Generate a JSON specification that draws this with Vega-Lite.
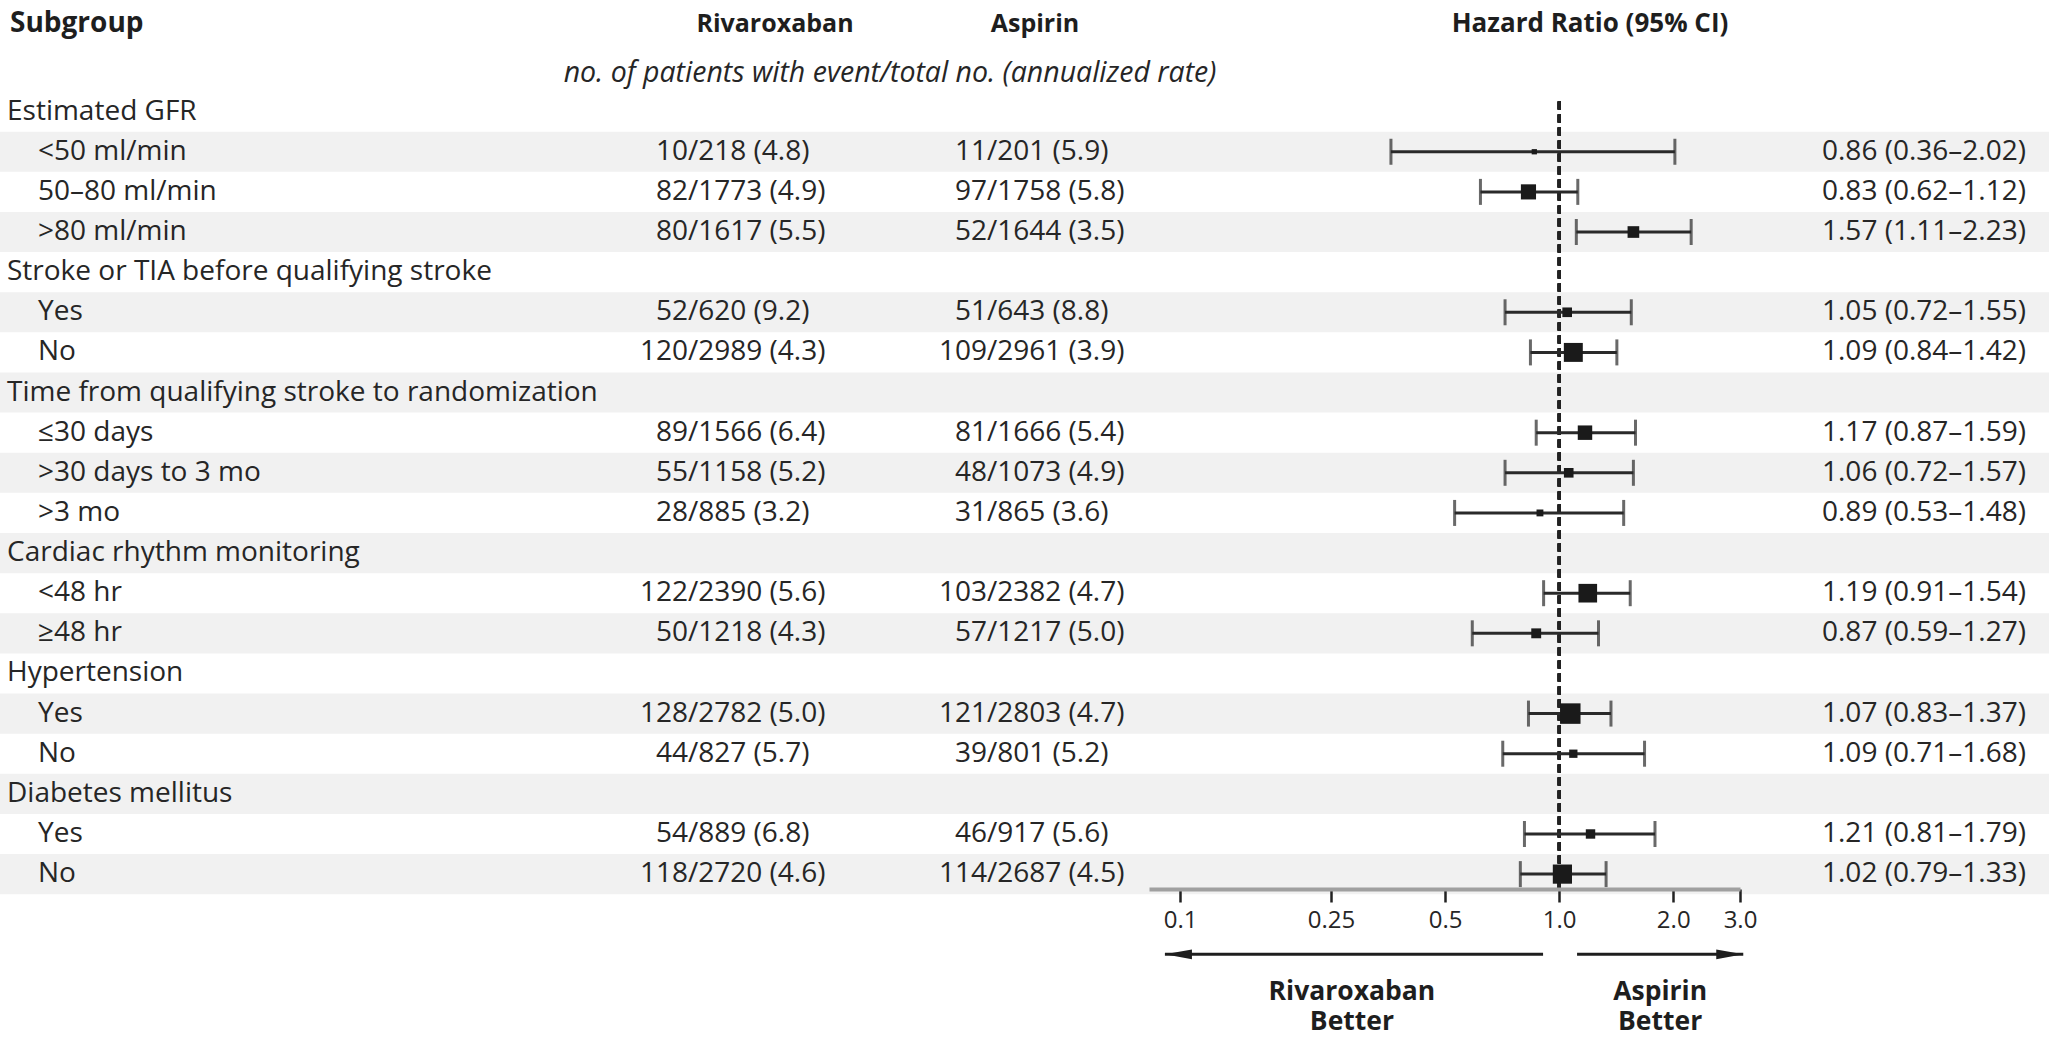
{
  "$schema": "https://vega.github.io/schema/vega-lite/v6.json",
  "width": 2049,
  "height": 889,
  "autosize": {"type": "none"},
  "padding": {"left": 0, "top": 0, "right": 0, "bottom": 151},
  "background": "white",
  "config": {
    "view": {"stroke": null},
    "font": "Open Sans",
    "text": {"font": "Open Sans", "fontSize": 28, "color": "#262626", "baseline": "middle"}
  },
  "datasets": {
    "subgroups": [
      {"row": 1, "label": "Estimated GFR", "level": "group"},
      {"row": 2, "label": "<50 ml/min", "level": "item", "riv_n": 10, "riv_total": 218, "riv_rate": 4.8, "asp_n": 11, "asp_total": 201, "asp_rate": 5.9, "hr": 0.86, "lo": 0.36, "hi": 2.02},
      {"row": 3, "label": "50–80 ml/min", "level": "item", "riv_n": 82, "riv_total": 1773, "riv_rate": 4.9, "asp_n": 97, "asp_total": 1758, "asp_rate": 5.8, "hr": 0.83, "lo": 0.62, "hi": 1.12},
      {"row": 4, "label": ">80 ml/min", "level": "item", "riv_n": 80, "riv_total": 1617, "riv_rate": 5.5, "asp_n": 52, "asp_total": 1644, "asp_rate": 3.5, "hr": 1.57, "lo": 1.11, "hi": 2.23},
      {"row": 5, "label": "Stroke or TIA before qualifying stroke", "level": "group"},
      {"row": 6, "label": "Yes", "level": "item", "riv_n": 52, "riv_total": 620, "riv_rate": 9.2, "asp_n": 51, "asp_total": 643, "asp_rate": 8.8, "hr": 1.05, "lo": 0.72, "hi": 1.55},
      {"row": 7, "label": "No", "level": "item", "riv_n": 120, "riv_total": 2989, "riv_rate": 4.3, "asp_n": 109, "asp_total": 2961, "asp_rate": 3.9, "hr": 1.09, "lo": 0.84, "hi": 1.42},
      {"row": 8, "label": "Time from qualifying stroke to randomization", "level": "group"},
      {"row": 9, "label": "≤30 days", "level": "item", "riv_n": 89, "riv_total": 1566, "riv_rate": 6.4, "asp_n": 81, "asp_total": 1666, "asp_rate": 5.4, "hr": 1.17, "lo": 0.87, "hi": 1.59},
      {"row": 10, "label": ">30 days to 3 mo", "level": "item", "riv_n": 55, "riv_total": 1158, "riv_rate": 5.2, "asp_n": 48, "asp_total": 1073, "asp_rate": 4.9, "hr": 1.06, "lo": 0.72, "hi": 1.57},
      {"row": 11, "label": ">3 mo", "level": "item", "riv_n": 28, "riv_total": 885, "riv_rate": 3.2, "asp_n": 31, "asp_total": 865, "asp_rate": 3.6, "hr": 0.89, "lo": 0.53, "hi": 1.48},
      {"row": 12, "label": "Cardiac rhythm monitoring", "level": "group"},
      {"row": 13, "label": "<48 hr", "level": "item", "riv_n": 122, "riv_total": 2390, "riv_rate": 5.6, "asp_n": 103, "asp_total": 2382, "asp_rate": 4.7, "hr": 1.19, "lo": 0.91, "hi": 1.54},
      {"row": 14, "label": "≥48 hr", "level": "item", "riv_n": 50, "riv_total": 1218, "riv_rate": 4.3, "asp_n": 57, "asp_total": 1217, "asp_rate": 5.0, "hr": 0.87, "lo": 0.59, "hi": 1.27},
      {"row": 15, "label": "Hypertension", "level": "group"},
      {"row": 16, "label": "Yes", "level": "item", "riv_n": 128, "riv_total": 2782, "riv_rate": 5.0, "asp_n": 121, "asp_total": 2803, "asp_rate": 4.7, "hr": 1.07, "lo": 0.83, "hi": 1.37},
      {"row": 17, "label": "No", "level": "item", "riv_n": 44, "riv_total": 827, "riv_rate": 5.7, "asp_n": 39, "asp_total": 801, "asp_rate": 5.2, "hr": 1.09, "lo": 0.71, "hi": 1.68},
      {"row": 18, "label": "Diabetes mellitus", "level": "group"},
      {"row": 19, "label": "Yes", "level": "item", "riv_n": 54, "riv_total": 889, "riv_rate": 6.8, "asp_n": 46, "asp_total": 917, "asp_rate": 5.6, "hr": 1.21, "lo": 0.81, "hi": 1.79},
      {"row": 20, "label": "No", "level": "item", "riv_n": 118, "riv_total": 2720, "riv_rate": 4.6, "asp_n": 114, "asp_total": 2687, "asp_rate": 4.5, "hr": 1.02, "lo": 0.79, "hi": 1.33}
    ]
  },
  "data": {"name": "subgroups"},
  "transform": [
    {"calculate": "'/' + datum.riv_total + ' (' + format(datum.riv_rate, '.1f') + ')'", "as": "riv_rest"},
    {"calculate": "'/' + datum.asp_total + ' (' + format(datum.asp_rate, '.1f') + ')'", "as": "asp_rest"},
    {"calculate": "format(datum.hr, '.2f') + ' (' + format(datum.lo, '.2f') + '–' + format(datum.hi, '.2f') + ')'", "as": "hr_label"},
    {"calculate": "datum.riv_n + datum.asp_n", "as": "events"}
  ],
  "resolve": {"scale": {"x": "independent"}},
  "layer": [
    {
      "description": "alternating row shading",
      "transform": [{"filter": "datum.row % 2 == 0"}],
      "mark": {"type": "rect", "color": "#f1f1f1"},
      "encoding": {
        "y": {"field": "row", "type": "ordinal", "axis": null,
              "scale": {"type": "band", "domain": [-1, 0, 1, 2, 3, 4, 5, 6, 7, 8, 9, 10, 11, 12, 13, 14, 15, 16, 17, 18, 19, 20, 21, 22, 23, 24], "range": [11.3, 1054.7], "paddingInner": 0, "paddingOuter": 0}}
      }
    },
    {
      "description": "group headings",
      "transform": [{"filter": "datum.level == 'group'"}],
      "mark": {"type": "text", "align": "left"},
      "encoding": {
        "x": {"datum": 0, "type": "quantitative", "axis": null, "scale": {"type": "linear", "zero": false, "nice": false, "domain": [0, 1, 2, 3, 4, 5, 6, 7, 8], "range": [7, 38, 688, 775, 890, 987, 1035, 1590, 1822]}},
        "y": {"field": "row", "type": "ordinal", "axis": null},
        "text": {"field": "label", "type": "nominal"}
      }
    },
    {
      "description": "subgroup labels",
      "transform": [{"filter": "datum.level == 'item'"}],
      "mark": {"type": "text", "align": "left"},
      "encoding": {
        "x": {"datum": 1, "type": "quantitative", "axis": null, "scale": {"type": "linear", "zero": false, "nice": false, "domain": [0, 1, 2, 3, 4, 5, 6, 7, 8], "range": [7, 38, 688, 775, 890, 987, 1035, 1590, 1822]}},
        "y": {"field": "row", "type": "ordinal", "axis": null},
        "text": {"field": "label", "type": "nominal"}
      }
    },
    {
      "description": "rivaroxaban events, aligned on the slash",
      "transform": [{"filter": "datum.level == 'item'"}],
      "mark": {"type": "text", "align": "right"},
      "encoding": {
        "x": {"datum": 2, "type": "quantitative", "axis": null, "scale": {"type": "linear", "zero": false, "nice": false, "domain": [0, 1, 2, 3, 4, 5, 6, 7, 8], "range": [7, 38, 688, 775, 890, 987, 1035, 1590, 1822]}},
        "y": {"field": "row", "type": "ordinal", "axis": null},
        "text": {"field": "riv_n", "type": "quantitative", "format": "d"}
      }
    },
    {
      "description": "rivaroxaban totals and annualized rate",
      "transform": [{"filter": "datum.level == 'item'"}],
      "mark": {"type": "text", "align": "left"},
      "encoding": {
        "x": {"datum": 2, "type": "quantitative", "axis": null, "scale": {"type": "linear", "zero": false, "nice": false, "domain": [0, 1, 2, 3, 4, 5, 6, 7, 8], "range": [7, 38, 688, 775, 890, 987, 1035, 1590, 1822]}},
        "y": {"field": "row", "type": "ordinal", "axis": null},
        "text": {"field": "riv_rest", "type": "nominal"}
      }
    },
    {
      "description": "aspirin events, aligned on the slash",
      "transform": [{"filter": "datum.level == 'item'"}],
      "mark": {"type": "text", "align": "right"},
      "encoding": {
        "x": {"datum": 5, "type": "quantitative", "axis": null, "scale": {"type": "linear", "zero": false, "nice": false, "domain": [0, 1, 2, 3, 4, 5, 6, 7, 8], "range": [7, 38, 688, 775, 890, 987, 1035, 1590, 1822]}},
        "y": {"field": "row", "type": "ordinal", "axis": null},
        "text": {"field": "asp_n", "type": "quantitative", "format": "d"}
      }
    },
    {
      "description": "aspirin totals and annualized rate",
      "transform": [{"filter": "datum.level == 'item'"}],
      "mark": {"type": "text", "align": "left"},
      "encoding": {
        "x": {"datum": 5, "type": "quantitative", "axis": null, "scale": {"type": "linear", "zero": false, "nice": false, "domain": [0, 1, 2, 3, 4, 5, 6, 7, 8], "range": [7, 38, 688, 775, 890, 987, 1035, 1590, 1822]}},
        "y": {"field": "row", "type": "ordinal", "axis": null},
        "text": {"field": "asp_rest", "type": "nominal"}
      }
    },
    {
      "description": "hazard ratio with 95% CI",
      "transform": [{"filter": "datum.level == 'item'"}],
      "mark": {"type": "text", "align": "left"},
      "encoding": {
        "x": {"datum": 8, "type": "quantitative", "axis": null, "scale": {"type": "linear", "zero": false, "nice": false, "domain": [0, 1, 2, 3, 4, 5, 6, 7, 8], "range": [7, 38, 688, 775, 890, 987, 1035, 1590, 1822]}},
        "y": {"field": "row", "type": "ordinal", "axis": null},
        "text": {"field": "hr_label", "type": "nominal"}
      }
    },
    {
      "description": "line of no effect",
      "mark": {"type": "rule", "color": "#222222", "strokeWidth": 2.5, "strokeDash": [8, 5]},
      "encoding": {
        "x": {"datum": 1, "type": "quantitative", "axis": null, "scale": {"type": "log", "domain": [0.0828, 3], "range": [1149, 1740], "nice": false, "zero": false}},
        "y": {"datum": 1, "type": "ordinal", "bandPosition": 0.25, "axis": null},
        "y2": {"value": "height"}
      }
    },
    {
      "description": "confidence intervals",
      "transform": [{"filter": "datum.level == 'item'"}],
      "mark": {"type": "rule", "color": "#2a2a2a", "strokeWidth": 3},
      "encoding": {
        "x": {"field": "lo", "type": "quantitative",
              "scale": {"type": "log", "domain": [0.0828, 3], "range": [1149, 1740], "nice": false, "zero": false},
              "axis": {"orient": "bottom", "values": [0.1, 0.25, 0.5, 1, 2, 3], "labelExpr": "datum.value == 0.25 ? '0.25' : format(datum.value, '.1f')",
                       "title": null, "grid": false, "zindex": 2, "domainColor": "#a0a0a0", "domainWidth": 4, "domainCap": "butt",
                       "tickColor": "#222222", "tickWidth": 2.5, "tickSize": 13, "labelFont": "Open Sans", "labelFontSize": 24,
                       "labelColor": "#262626", "labelPadding": 6, "labelFlush": false, "labelOverlap": false, "labelBound": false}},
        "x2": {"field": "hi"},
        "y": {"field": "row", "type": "ordinal", "bandPosition": 0.5, "axis": null}
      }
    },
    {
      "description": "lower CI caps",
      "transform": [{"filter": "datum.level == 'item'"}],
      "mark": {"type": "tick", "color": "#2a2a2a", "thickness": 3, "size": 26, "orient": "vertical"},
      "encoding": {
        "x": {"field": "lo", "type": "quantitative", "axis": null, "scale": {"type": "log", "domain": [0.0828, 3], "range": [1149, 1740], "nice": false, "zero": false}},
        "y": {"field": "row", "type": "ordinal", "axis": null}
      }
    },
    {
      "description": "upper CI caps",
      "transform": [{"filter": "datum.level == 'item'"}],
      "mark": {"type": "tick", "color": "#2a2a2a", "thickness": 3, "size": 26, "orient": "vertical"},
      "encoding": {
        "x": {"field": "hi", "type": "quantitative", "axis": null, "scale": {"type": "log", "domain": [0.0828, 3], "range": [1149, 1740], "nice": false, "zero": false}},
        "y": {"field": "row", "type": "ordinal", "axis": null}
      }
    },
    {
      "description": "point estimates, box size by number of events",
      "transform": [{"filter": "datum.level == 'item'"}],
      "mark": {"type": "point", "shape": "square", "filled": true, "color": "#1a1a1a", "opacity": 1},
      "encoding": {
        "x": {"field": "hr", "type": "quantitative", "axis": null, "scale": {"type": "log", "domain": [0.0828, 3], "range": [1149, 1740], "nice": false, "zero": false}},
        "y": {"field": "row", "type": "ordinal", "axis": null},
        "size": {"field": "events", "type": "quantitative", "legend": null, "scale": {"type": "pow", "exponent": 2, "domain": [0, 249], "range": [25, 420], "zero": false}}
      }
    },
    {
      "data": {"values": [{}]},
      "mark": {"type": "text", "align": "left", "fontWeight": "bold", "fontSize": 28, "dy": -7, "color": "#1e1e1e"},
      "encoding": {
        "x": {"datum": 0, "type": "quantitative", "axis": null, "scale": {"type": "linear", "zero": false, "nice": false, "domain": [0, 1, 2, 3, 4, 5, 6, 7, 8], "range": [10, 38, 688, 775, 890, 987, 1035, 1590, 1822]}},
        "y": {"datum": -1, "type": "ordinal", "axis": null},
        "text": {"value": "Subgroup"}
      }
    },
    {
      "data": {"values": [{}]},
      "mark": {"type": "text", "align": "center", "fontWeight": "bold", "fontSize": 25, "dy": -7, "color": "#1e1e1e"},
      "encoding": {
        "x": {"datum": 3, "type": "quantitative", "axis": null, "scale": {"type": "linear", "zero": false, "nice": false, "domain": [0, 1, 2, 3, 4, 5, 6, 7, 8], "range": [7, 38, 688, 775, 890, 987, 1035, 1590, 1822]}},
        "y": {"datum": -1, "type": "ordinal", "axis": null},
        "text": {"value": "Rivaroxaban"}
      }
    },
    {
      "data": {"values": [{}]},
      "mark": {"type": "text", "align": "center", "fontWeight": "bold", "fontSize": 25, "dy": -7, "color": "#1e1e1e"},
      "encoding": {
        "x": {"datum": 6, "type": "quantitative", "axis": null, "scale": {"type": "linear", "zero": false, "nice": false, "domain": [0, 1, 2, 3, 4, 5, 6, 7, 8], "range": [7, 38, 688, 775, 890, 987, 1035, 1590, 1822]}},
        "y": {"datum": -1, "type": "ordinal", "axis": null},
        "text": {"value": "Aspirin"}
      }
    },
    {
      "data": {"values": [{}]},
      "mark": {"type": "text", "align": "center", "fontWeight": "bold", "fontSize": 26, "dy": -7, "color": "#1e1e1e"},
      "encoding": {
        "x": {"datum": 7, "type": "quantitative", "axis": null, "scale": {"type": "linear", "zero": false, "nice": false, "domain": [0, 1, 2, 3, 4, 5, 6, 7, 8], "range": [7, 38, 688, 775, 890, 987, 1035, 1590, 1822]}},
        "y": {"datum": -1, "type": "ordinal", "axis": null},
        "text": {"value": "Hazard Ratio (95% CI)"}
      }
    },
    {
      "data": {"values": [{}]},
      "mark": {"type": "text", "align": "center", "fontStyle": "italic", "fontSize": 28.5, "dy": 2, "color": "#262626"},
      "encoding": {
        "x": {"datum": 4, "type": "quantitative", "axis": null, "scale": {"type": "linear", "zero": false, "nice": false, "domain": [0, 1, 2, 3, 4, 5, 6, 7, 8], "range": [7, 38, 688, 775, 890, 987, 1035, 1590, 1822]}},
        "y": {"datum": 0, "type": "ordinal", "axis": null},
        "text": {"value": "no. of patients with event/total no. (annualized rate)"}
      }
    },
    {
      "data": {"values": [{}]},
      "mark": {"type": "rule", "color": "#1e1e1e", "strokeWidth": 3},
      "encoding": {
        "x": {"datum": 0.907, "type": "quantitative", "axis": null, "scale": {"type": "log", "domain": [0.0828, 3], "range": [1149, 1740], "nice": false, "zero": false}},
        "x2": {"datum": 0.0912},
        "y": {"datum": 22, "type": "ordinal", "axis": null}
      }
    },
    {
      "data": {"values": [{}]},
      "mark": {"type": "point", "shape": "M0,0L2,-0.37L2,0.37Z", "filled": true, "color": "#1e1e1e", "opacity": 1, "size": 729},
      "encoding": {
        "x": {"datum": 0.0912, "type": "quantitative", "axis": null, "scale": {"type": "log", "domain": [0.0828, 3], "range": [1149, 1740], "nice": false, "zero": false}},
        "y": {"datum": 22, "type": "ordinal", "axis": null}
      }
    },
    {
      "data": {"values": [{}]},
      "mark": {"type": "rule", "color": "#1e1e1e", "strokeWidth": 3},
      "encoding": {
        "x": {"datum": 1.115, "type": "quantitative", "axis": null, "scale": {"type": "log", "domain": [0.0828, 3], "range": [1149, 1740], "nice": false, "zero": false}},
        "x2": {"datum": 3.06},
        "y": {"datum": 22, "type": "ordinal", "axis": null}
      }
    },
    {
      "data": {"values": [{}]},
      "mark": {"type": "point", "shape": "M0,0L-2,-0.37L-2,0.37Z", "filled": true, "color": "#1e1e1e", "opacity": 1, "size": 729},
      "encoding": {
        "x": {"datum": 3.06, "type": "quantitative", "axis": null, "scale": {"type": "log", "domain": [0.0828, 3], "range": [1149, 1740], "nice": false, "zero": false}},
        "y": {"datum": 22, "type": "ordinal", "axis": null}
      }
    },
    {
      "data": {"values": [{}]},
      "mark": {"type": "text", "align": "center", "baseline": "middle", "fontWeight": "bold", "fontSize": 26.5, "lineHeight": 30, "dy": -3, "color": "#1e1e1e"},
      "encoding": {
        "x": {"datum": 0.284, "type": "quantitative", "axis": null, "scale": {"type": "log", "domain": [0.0828, 3], "range": [1149, 1740], "nice": false, "zero": false}},
        "y": {"datum": 23, "type": "ordinal", "bandPosition": 0.5, "axis": null},
        "text": {"value": ["Rivaroxaban", "Better"]}
      }
    },
    {
      "data": {"values": [{}]},
      "mark": {"type": "text", "align": "center", "baseline": "middle", "fontWeight": "bold", "fontSize": 26.5, "lineHeight": 30, "dy": -3, "color": "#1e1e1e"},
      "encoding": {
        "x": {"datum": 1.847, "type": "quantitative", "axis": null, "scale": {"type": "log", "domain": [0.0828, 3], "range": [1149, 1740], "nice": false, "zero": false}},
        "y": {"datum": 23, "type": "ordinal", "bandPosition": 0.5, "axis": null},
        "text": {"value": ["Aspirin", "Better"]}
      }
    }
  ]
}
